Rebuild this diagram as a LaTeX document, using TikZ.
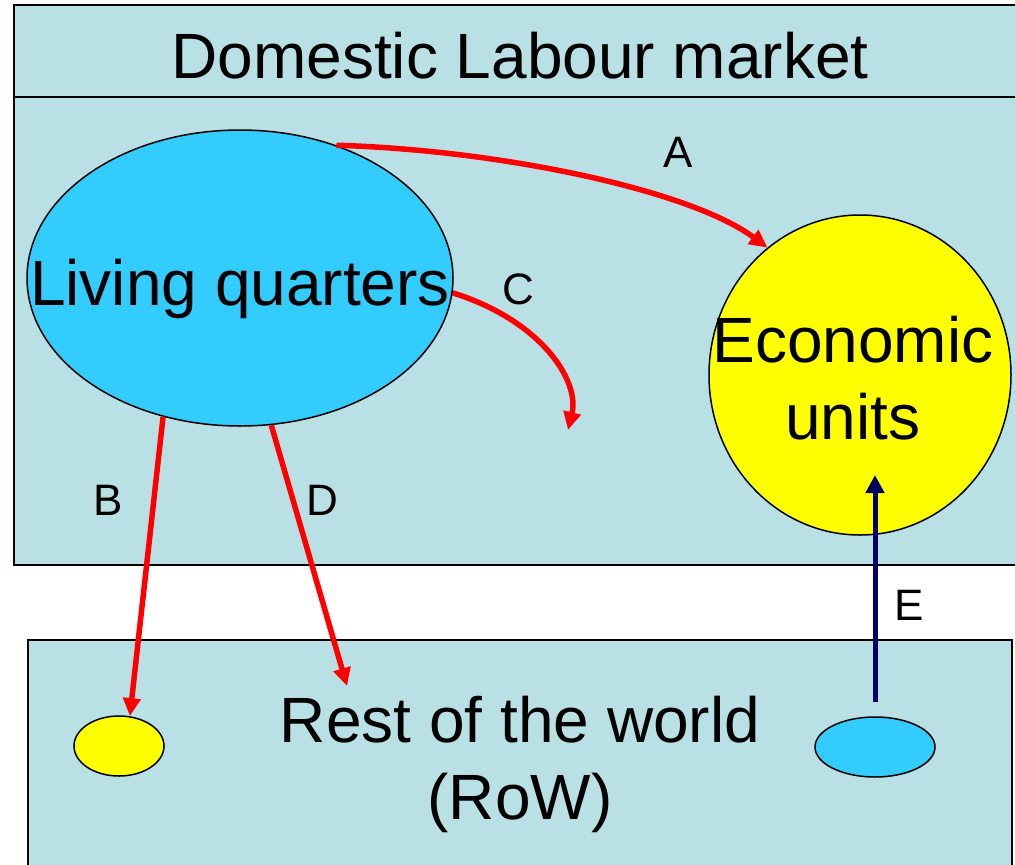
\documentclass[tikz,border=0pt]{standalone}
\usepackage{fontspec}
\setmainfont{Liberation Sans}
\usetikzlibrary{shapes.geometric,arrows.meta}
\definecolor{boxblue}{RGB}{185,224,228}
\definecolor{lqcyan}{RGB}{51,204,255}
\definecolor{navyflow}{RGB}{0,0,102}
\definecolor{euyellow}{RGB}{255,255,0}

\begin{document}
\begin{tikzpicture}[x=1pt,y=-1pt,
  bigtext/.style={font=\fontsize{64}{77}\selectfont, inner sep=0pt, align=center},
  lbl/.style={font=\fontsize{44}{50}\selectfont, inner sep=0pt},
  redflow/.style={red, line width=5.5pt, -{Triangle[length=18pt,width=17pt]}},
  blob/.style={ellipse, draw=black, line width=1.5pt, inner sep=0pt}]
\useasboundingbox (0,0) rectangle (1015,865);
\clip (0,0) rectangle (1015,865);

% the two markets
\draw[fill=boxblue, line width=1.5pt] (14,5) rectangle (1040,565);
\draw[line width=1.5pt] (14,97) -- (1040,97);
\draw[fill=boxblue, line width=1.5pt] (28,640) rectangle (1012,900);
\node[bigtext, anchor=base] (title) at (520,78) {Domestic Labour market};

\node[blob, fill=lqcyan, minimum width=426pt, minimum height=296pt] (lq) at (240,278) {};
\node[bigtext, anchor=base] (lqtext) at (240,305) {Living quarters};

\node[blob, fill=euyellow, minimum width=302pt, minimum height=320pt] (eu) at (860,375) {};
\node[bigtext] (eutext) at (853,378) {Economic\\units};

\node[blob, fill=euyellow, minimum width=90pt, minimum height=60pt] (rowyel) at (119,746) {};
\node[blob, fill=lqcyan, minimum width=120pt, minimum height=60pt] (rowcyan) at (875,747) {};
\node[bigtext] (rowtext) at (520,764) {Rest of the world\\(RoW)};

% flows
\coordinate (cEnd) at (568,430);
\coordinate (dEnd) at (347,686);
\coordinate (eEnd) at (875,475);

\draw[redflow] (lq.54) .. controls (500,150) and (690,190) .. (eu.126);
\draw[redflow] (lq.-4) .. controls (540,320) and (580,380) .. (cEnd);
\draw[redflow] (lq.241) -- (rowyel.70);
\draw[redflow] (lq.-78) -- (dEnd);
\draw[navyflow, line width=5pt, shorten <=14pt, -{Triangle[length=18pt,width=18pt]}] (rowcyan.north) -- (eEnd);

\node[lbl] (la) at (678,152) {A};
\node[lbl] (lb) at (108,500) {B};
\node[lbl] (lc) at (518,289) {C};
\node[lbl] (ld) at (322,500) {D};
\node[lbl] (le) at (909,605) {E};

\end{tikzpicture}
\end{document}
